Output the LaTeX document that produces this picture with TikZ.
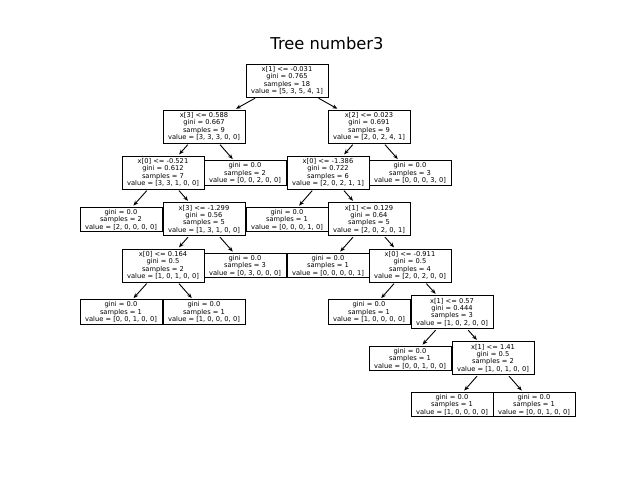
\documentclass[tikz,border=0pt]{standalone}
\usepackage{fontspec}
\setmainfont{DejaVu Sans}
\usetikzlibrary{arrows.meta}
\begin{document}
\begin{tikzpicture}[x=1pt,y=-1pt,
  tbox/.style={draw=black,line width=1pt,fill=white,align=center,inner xsep=1.5pt,inner ysep=0pt,
    minimum width=82pt,font=\fontsize{6.7}{7.4}\selectfont},
  split/.style={tbox,minimum height=33pt},
  leaf/.style={tbox,minimum height=24.5pt},
  edge/.style={line width=0.9pt,-{Stealth[length=5pt,width=4pt]},shorten <=1.5pt,shorten >=1.5pt}]
\useasboundingbox (0,0) rectangle (640,480);
\node[font=\fontsize{16.3}{18}\selectfont] (title) at (327,43) {Tree number3};
% level 0
\node[split] (n0) at (287,80.5) {x[1] <= -0.031\\gini = 0.765\\samples = 18\\value = [5, 3, 5, 4, 1]};
% level 1
\node[split] (n1) at (204,126.5) {x[3] <= 0.588\\gini = 0.667\\samples = 9\\value = [3, 3, 3, 0, 0]};
\node[split] (n2) at (369,126.5) {x[2] <= 0.023\\gini = 0.691\\samples = 9\\value = [2, 0, 2, 4, 1]};
% level 2
\node[split] (n3) at (163,172.5) {x[0] <= -0.521\\gini = 0.612\\samples = 7\\value = [3, 3, 1, 0, 0]};
\node[leaf] (n4) at (245,173) {gini = 0.0\\samples = 2\\value = [0, 0, 2, 0, 0]};
\node[split] (n5) at (328,172.5) {x[0] <= -1.386\\gini = 0.722\\samples = 6\\value = [2, 0, 2, 1, 1]};
\node[leaf] (n6) at (410,173) {gini = 0.0\\samples = 3\\value = [0, 0, 0, 3, 0]};
% level 3
\node[leaf] (n7) at (121,219.5) {gini = 0.0\\samples = 2\\value = [2, 0, 0, 0, 0]};
\node[split] (n8) at (204,219) {x[3] <= -1.299\\gini = 0.56\\samples = 5\\value = [1, 3, 1, 0, 0]};
\node[leaf] (n9) at (287,219.5) {gini = 0.0\\samples = 1\\value = [0, 0, 0, 1, 0]};
\node[split] (n10) at (369,219) {x[1] <= 0.129\\gini = 0.64\\samples = 5\\value = [2, 0, 2, 0, 1]};
% level 4
\node[split] (n11) at (163,265.5) {x[0] <= 0.164\\gini = 0.5\\samples = 2\\value = [1, 0, 1, 0, 0]};
\node[leaf] (n12) at (245,265.5) {gini = 0.0\\samples = 3\\value = [0, 3, 0, 0, 0]};
\node[leaf] (n13) at (328,265.5) {gini = 0.0\\samples = 1\\value = [0, 0, 0, 0, 1]};
\node[split] (n14) at (410,265.5) {x[0] <= -0.911\\gini = 0.5\\samples = 4\\value = [2, 0, 2, 0, 0]};
% level 5
\node[leaf] (n15) at (121,312) {gini = 0.0\\samples = 1\\value = [0, 0, 1, 0, 0]};
\node[leaf] (n16) at (204,312) {gini = 0.0\\samples = 1\\value = [1, 0, 0, 0, 0]};
\node[leaf] (n17) at (369,312) {gini = 0.0\\samples = 1\\value = [1, 0, 0, 0, 0]};
\node[split] (n18) at (452,312) {x[1] <= 0.57\\gini = 0.444\\samples = 3\\value = [1, 0, 2, 0, 0]};
% level 6
\node[leaf] (n19) at (410,358.5) {gini = 0.0\\samples = 1\\value = [0, 0, 1, 0, 0]};
\node[split] (n20) at (493,358) {x[1] <= 1.41\\gini = 0.5\\samples = 2\\value = [1, 0, 1, 0, 0]};
% level 7
\node[leaf] (n21) at (452,404.5) {gini = 0.0\\samples = 1\\value = [1, 0, 0, 0, 0]};
\node[leaf] (n22) at (534,404.5) {gini = 0.0\\samples = 1\\value = [0, 0, 1, 0, 0]};
% edges
\foreach \a/\b in {n0/n1,n0/n2,n1/n3,n1/n4,n2/n5,n2/n6,n3/n7,n3/n8,n5/n9,n5/n10,
  n8/n11,n8/n12,n10/n13,n10/n14,n11/n15,n11/n16,n14/n17,n14/n18,n18/n19,n18/n20,n20/n21,n20/n22}
  \draw[edge] (\a) -- (\b);
\end{tikzpicture}
\end{document}
